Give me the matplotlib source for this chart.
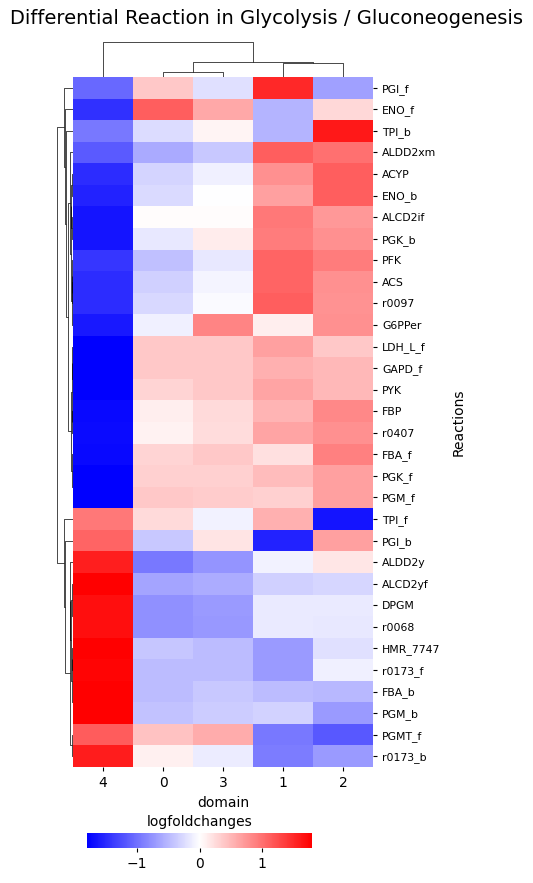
import numpy as np
import matplotlib
matplotlib.use('Agg')
import matplotlib.pyplot as plt
from matplotlib.collections import LineCollection

# rows in clustered display order
reactions = ['PGI_f', 'ENO_f', 'TPI_b', 'ALDD2xm', 'ACYP', 'ENO_b', 'ALCD2if', 'PGK_b',
             'PFK', 'ACS', 'r0097', 'G6PPer', 'LDH_L_f', 'GAPD_f', 'PYK', 'FBP',
             'r0407', 'FBA_f', 'PGK_f', 'PGM_f', 'TPI_f', 'PGI_b', 'ALDD2y', 'ALCD2yf',
             'DPGM', 'r0068', 'HMR_7747', 'r0173_f', 'FBA_b', 'PGM_b', 'PGMT_f', 'r0173_b']
domains = ['4', '0', '3', '1', '2']

# logfoldchanges per domain (same order as reactions)
dom4 = [-1.05, -1.45, -0.95, -1.16, -1.47, -1.55, -1.65, -1.65, -1.40, -1.48, -1.48, -1.61,
        -1.79, -1.79, -1.79, -1.73, -1.72, -1.73, -1.79, -1.79, 0.95, 1.09, 1.58, 1.79,
        1.68, 1.68, 1.79, 1.76, 1.79, 1.79, 1.14, 1.59]
dom0 = [0.39, 1.12, -0.25, -0.60, -0.30, -0.26, 0.02, -0.16, -0.44, -0.33, -0.27, -0.11,
        0.39, 0.39, 0.30, 0.12, 0.09, 0.30, 0.33, 0.39, 0.26, -0.39, -0.95, -0.64,
        -0.78, -0.78, -0.40, -0.47, -0.47, -0.42, 0.42, 0.11]
dom3 = [-0.22, 0.61, 0.08, -0.39, -0.11, -0.01, 0.02, 0.13, -0.16, -0.07, -0.04, 0.86,
        0.39, 0.38, 0.39, 0.26, 0.25, 0.39, 0.33, 0.36, -0.09, 0.19, -0.75, -0.58,
        -0.71, -0.72, -0.47, -0.47, -0.39, -0.36, 0.58, -0.13]
dom1 = [1.51, -0.53, -0.53, 1.12, 0.78, 0.67, 0.95, 0.92, 1.09, 1.09, 1.12, 0.12,
        0.67, 0.55, 0.64, 0.53, 0.64, 0.22, 0.47, 0.33, 0.55, -1.54, -0.09, -0.33,
        -0.15, -0.14, -0.70, -0.71, -0.47, -0.32, -0.95, -0.92]
dom2 = [-0.67, 0.27, 1.62, 1.00, 1.12, 1.12, 0.72, 0.78, 0.92, 0.78, 0.76, 0.78,
        0.39, 0.50, 0.50, 0.83, 0.78, 0.89, 0.67, 0.67, -1.65, 0.67, 0.18, -0.29,
        -0.15, -0.16, -0.22, -0.11, -0.50, -0.70, -1.17, -0.70]

# dendrograms: [height, left, right], leaves are display indices
row_tree = [15.7,
            [8.7, 0, [7.7, 1, [7.0, 2,
                [4.7,
                 [2.7, 3, [2.0, [1.6, [1.2, 4, 5], [1.0, 6, 7]],
                                [1.4, [0.9, 8, [0.6, 9, 10]], 11]]],
                 [1.8, [1.1, [0.7, 12, [0.5, 13, 14]], [0.6, 15, 16]],
                       [0.9, 17, [0.5, 18, 19]]]]]]],
            [8.7, 20, [7.7, 21,
                [3.5, [2.7, 22, [1.6, [0.9, 23, [0.5, 24, 25]],
                                      [1.0, [0.6, 26, 27], [0.5, 28, 29]]]],
                      [1.5, 30, 31]]]]]
col_tree = [35, 0, [15, [5, 1, 2], [14.5, 3, 4]]]

vlim = 1.79
W, H = 533, 883


def layout(node, segs):
    if not isinstance(node, list):
        return 10 * node + 5, 0
    h, a, b = node
    pa, ha = layout(a, segs)
    pb, hb = layout(b, segs)
    segs.append([(pa, ha), (pa, h), (pb, h), (pb, hb)])
    return (pa + pb) / 2, h


fig = plt.figure(figsize=(W / 100, H / 100), dpi=100)


def px_axes(x0, y0, x1, y1):
    return fig.add_axes([x0 / W, 1 - y1 / H, (x1 - x0) / W, (y1 - y0) / H])


data = np.array([dom4, dom0, dom3, dom1, dom2]).T
ax = px_axes(73, 77, 373, 767)
mesh = ax.pcolormesh(np.arange(len(domains) + 1) * 10, np.arange(len(reactions) + 1) * 10,
                     data, cmap='bwr', vmin=-vlim, vmax=vlim)
ax.set_xlim(0, 10 * len(domains))
ax.set_ylim(10 * len(reactions), 0)
ax.set_xticks(np.arange(len(domains)) * 10 + 5)
ax.set_xticklabels(domains, fontsize=10)
ax.set_yticks(np.arange(len(reactions)) * 10 + 5)
ax.set_yticklabels(reactions, fontsize=7.8)
ax.tick_params(axis='y', left=False, right=True, labelleft=False, labelright=True, length=3)
ax.tick_params(axis='x', length=3)
ax.yaxis.set_label_position('right')
ax.set_ylabel('Reactions', fontsize=10, labelpad=8)
ax.set_xlabel('domain', fontsize=10)
for s in ax.spines.values():
    s.set_visible(False)

# row dendrogram
segs = []
layout(row_tree, segs)
rax = px_axes(40, 77, 73, 767)
rax.add_collection(LineCollection([[(y, x) for x, y in s] for s in segs], colors='k', linewidths=0.5))
rax.set_xlim(33, 0)
rax.set_ylim(10 * len(reactions), 0)
rax.set_axis_off()

# column dendrogram
segs = []
layout(col_tree, segs)
cax_d = px_axes(73, 40, 373, 77)
cax_d.add_collection(LineCollection(segs, colors='k', linewidths=0.5))
cax_d.set_xlim(0, 10 * len(domains))
cax_d.set_ylim(0, 37)
cax_d.set_axis_off()

# colorbar
cbax = px_axes(87, 833, 312, 848)
cb = fig.colorbar(mesh, cax=cbax, orientation='horizontal', ticks=[-1, 0, 1])
cb.outline.set_visible(False)
cbax.tick_params(labelsize=10, length=3)
cbax.xaxis.set_label_position('top')
cb.set_label('logfoldchanges', fontsize=10, labelpad=5)

fig.text(0.5, 1 - 18 / H, 'Differential Reaction in Glycolysis / Gluconeogenesis',
         ha='center', va='center', fontsize=14)

fig.savefig('out.png', dpi=100)
